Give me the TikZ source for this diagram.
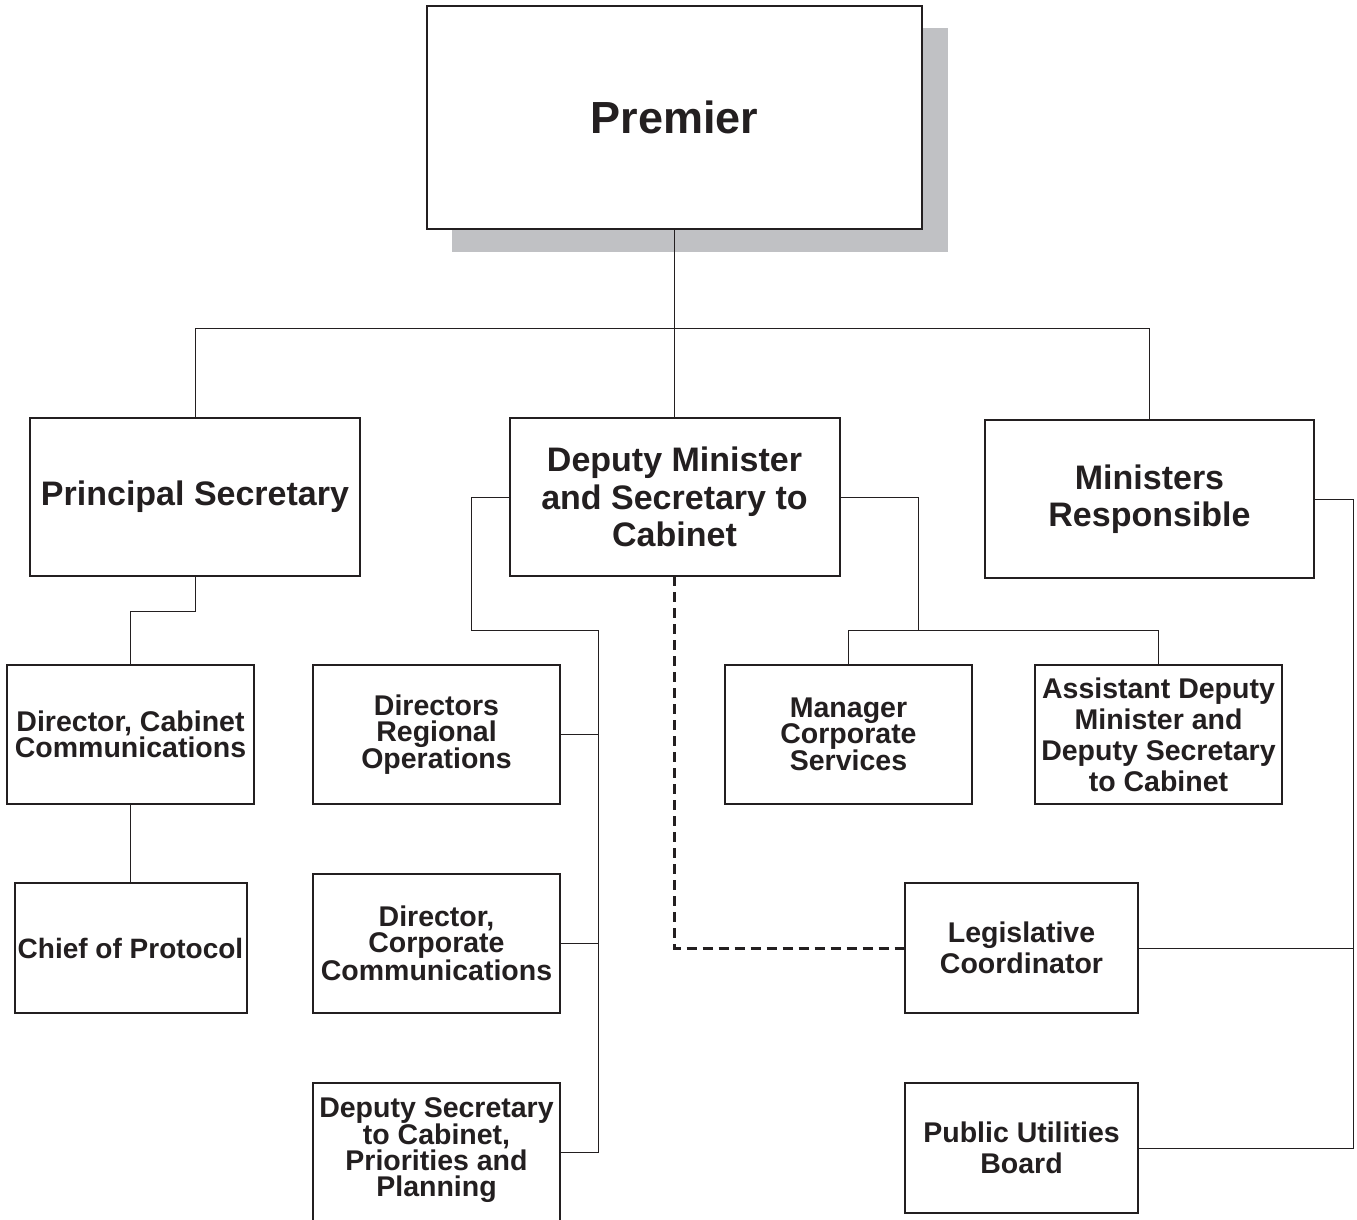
\documentclass[tikz,border=0pt]{standalone}
\usepackage{fontspec}
\setmainfont{Liberation Sans}
\begin{document}
\begin{tikzpicture}[x=1pt,y=-1pt,
  box/.style={draw=inkc, line width=2pt, fill=white, rectangle, inner sep=0pt, outer sep=0pt, align=center, text=inkc},
  bigtext/.style={font={\fontsize{34}{37.5}\selectfont\bfseries}},
  smalltext/.style={font={\fontsize{28.5}{26}\selectfont\bfseries}},
  medtext/.style={font={\fontsize{28.5}{31}\selectfont\bfseries}},
  conn/.style={draw=inkc, line width=1pt},
  dashconn/.style={draw=inkc, line width=3pt, dash pattern=on 10pt off 6pt}]
\definecolor{inkc}{HTML}{231F20}
\definecolor{shadowc}{HTML}{C0C1C4}
\useasboundingbox (0,0) rectangle (1357,1220);
\fill[white] (0,0) rectangle (1357,1220);

% shadow of Premier
\fill[shadowc] (452,28) rectangle (948,252);

% nodes
\node[box, minimum width=495pt, minimum height=223pt, font={\fontsize{45}{50}\selectfont\bfseries}] (premier) at (674.5,117.5) {Premier};

\node[box, bigtext, minimum width=330pt, minimum height=158pt] (ps) at (195,497) {Principal Secretary};
\node[box, bigtext, minimum width=330pt, minimum height=158pt] (dm) at (674.5,497) {Deputy Minister\\and Secretary to\\Cabinet};
\node[box, bigtext, minimum width=329pt, minimum height=158pt] (mr) at (1149.5,499) {Ministers\\Responsible};

\node[box, smalltext, minimum width=247pt, minimum height=139pt] (dcc) at (130.5,734.5) {Director, Cabinet\\Communications};
\node[box, font={\fontsize{28}{26}\selectfont\bfseries}, minimum width=232pt, minimum height=130pt] (cp) at (130.5,948) {Chief of Protocol};

\node[box, smalltext, minimum width=247pt, minimum height=139pt] (dro) at (436.5,734.5) {Directors\\Regional\\Operations};
\node[box, smalltext, minimum width=247pt, minimum height=139pt] (dcorp) at (436.5,943.5) {Director,\\Corporate\\Communications};
\node[rectangle, inner sep=0pt, outer sep=0pt, align=center, text=inkc, smalltext, minimum width=247pt, minimum height=134pt] (ds) at (436.5,1150) {Deputy Secretary\\to Cabinet,\\Priorities and\\Planning};
\draw[draw=inkc, line width=2pt] ([yshift=-30pt]ds.south west) -- (ds.north west) -- (ds.north east) -- ([yshift=-30pt]ds.south east);

\node[box, smalltext, minimum width=247pt, minimum height=139pt] (mcs) at (848.5,734.5) {Manager\\Corporate\\Services};
\node[box, medtext, minimum width=247pt, minimum height=139pt] (adm) at (1158.5,734.5) {Assistant Deputy\\Minister and\\Deputy Secretary\\to Cabinet};

\node[box, medtext, minimum width=233pt, minimum height=130pt] (lc) at (1021.5,948) {Legislative\\Coordinator};
\node[box, medtext, minimum width=233pt, minimum height=130pt] (pub) at (1021.5,1148) {Public Utilities\\Board};

% connectors from Premier
\draw[conn] (premier.south) -- (dm.north);
\draw[conn] (ps.north) -- (ps.north |- 0,328) -- (mr.north |- 0,328) -- (mr.north);

% Principal Secretary branch
\draw[conn] (ps.south) -- (ps.south |- 0,611) -- (dcc.north |- 0,611) -- (dcc.north);
\draw[conn] (dcc.south) -- (cp.north);

% Deputy Minister left branch
\coordinate (trunktop) at (598,630);
\coordinate (trunkbot) at (598,1152);
\draw[conn] (dm.west) -- (471,497) -- (471,630) -- (trunktop) -- (trunkbot) -- (ds.east |- trunkbot);
\draw[conn] (dro.east) -- (dro.east -| trunktop);
\draw[conn] (dcorp.east) -- (dcorp.east -| trunktop);

% Deputy Minister right branch
\draw[conn] (dm.east) -| (918,630);
\draw[conn] (mcs.north) |- (adm.north |- 0,630) -- (adm.north);

% dashed link
\draw[dashconn] (dm.south) |- (lc.west);

% Ministers Responsible branch
\coordinate (rtrunk) at (1353,1148);
\draw[conn] (mr.east) -| (rtrunk) -- (pub.east);
\draw[conn] (lc.east) -- (lc.east -| rtrunk);
\end{tikzpicture}
\end{document}
